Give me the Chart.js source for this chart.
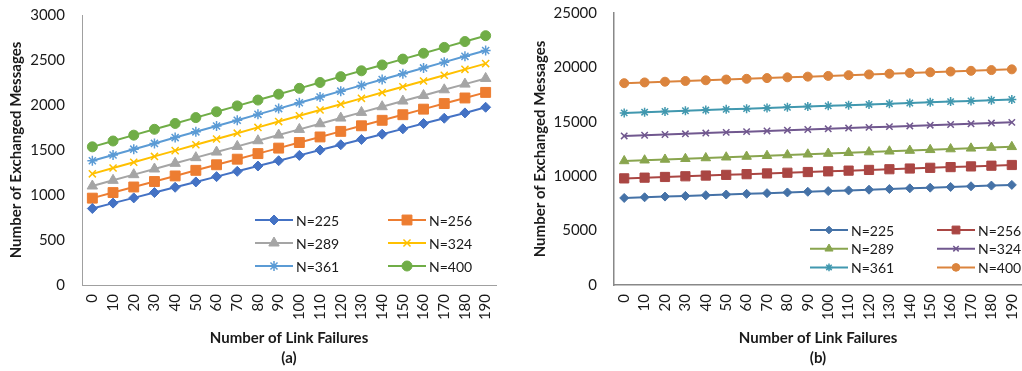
<!DOCTYPE html>
<html>
<head>
<meta charset="utf-8">
<script src="https://cdn.jsdelivr.net/npm/chart.js@4.4.1/dist/chart.umd.min.js"></script>
<style>
html,body{margin:0;padding:0;background:#fff;overflow:hidden;width:1022px;height:371px;}
#wa{position:absolute;left:0;top:0;width:505px;height:371px;}
#wb{position:absolute;left:510px;top:0;width:520px;height:371px;}
</style>
</head>
<body>
<div id="wa"><canvas id="ca"></canvas></div>
<div id="wb"><canvas id="cb"></canvas></div>
<script>
// ---- data ----
const categories = ['0','10','20','30','40','50','60','70','80','90','100','110','120','130','140','150','160','170','180','190'];
const seriesNames = ['N=225','N=256','N=289','N=324','N=361','N=400'];

// chart (a)
const a225 = [850, 910, 968, 1027, 1086, 1145, 1204, 1263, 1322, 1381, 1440, 1499, 1558, 1617, 1676, 1735, 1794, 1853, 1912, 1975];
const a256 = [965, 1027, 1089, 1150, 1212, 1274, 1336, 1398, 1460, 1521, 1583, 1645, 1707, 1769, 1830, 1892, 1954, 2016, 2078, 2140];
const a289 = [1100, 1163, 1226, 1289, 1352, 1415, 1477, 1540, 1603, 1666, 1729, 1792, 1855, 1918, 1981, 2044, 2106, 2169, 2232, 2295];
const a324 = [1235, 1300, 1364, 1429, 1493, 1558, 1622, 1687, 1751, 1816, 1880, 1945, 2009, 2074, 2138, 2203, 2267, 2331, 2396, 2460];
const a361 = [1380, 1444, 1509, 1573, 1638, 1702, 1767, 1831, 1896, 1960, 2025, 2089, 2154, 2218, 2283, 2347, 2412, 2476, 2541, 2605];
const a400 = [1535, 1600, 1665, 1730, 1795, 1860, 1925, 1990, 2055, 2120, 2185, 2250, 2315, 2380, 2445, 2510, 2575, 2640, 2705, 2770];

// chart (b)
const b225 = [8000, 8063, 8126, 8189, 8253, 8316, 8379, 8442, 8505, 8568, 8632, 8695, 8758, 8821, 8884, 8947, 9011, 9074, 9137, 9200];
const b256 = [9800, 9865, 9930, 9994, 10059, 10124, 10188, 10253, 10318, 10383, 10447, 10512, 10577, 10641, 10706, 10771, 10836, 10900, 10965, 11030];
const b289 = [11400, 11468, 11537, 11605, 11674, 11742, 11811, 11879, 11947, 12016, 12084, 12153, 12221, 12289, 12358, 12426, 12495, 12563, 12632, 12700];
const b324 = [13700, 13766, 13832, 13897, 13963, 14029, 14095, 14161, 14226, 14292, 14358, 14424, 14489, 14555, 14621, 14687, 14753, 14818, 14884, 14950];
const b361 = [15820, 15885, 15949, 16014, 16079, 16144, 16208, 16273, 16338, 16403, 16467, 16532, 16597, 16662, 16726, 16791, 16856, 16921, 16985, 17050];
const b400 = [18550, 18617, 18684, 18751, 18817, 18884, 18951, 19018, 19085, 19152, 19218, 19285, 19352, 19419, 19486, 19553, 19619, 19686, 19753, 19820];

const yTicksA = [0, 500, 1000, 1500, 2000, 2500, 3000];
const yTicksB = [0, 5000, 10000, 15000, 20000, 25000];

// ---- styles ----
const FONT = 'Lato, "Open Sans", sans-serif';
const TXT = '#1a1a1a';
const styles = ['rectRot','rect','triangle','crossRot','star','circle'];
const radA = [5, 7, 6, 5, 5, 5];
const radB = [4.5, 6.5, 5.5, 4.5, 4.5, 4.5];
const colorsA = ['#4472C4','#ED7D31','#A5A5A5','#FFC000','#5B9BD5','#70AD47'];
const colorsB = ['#4572A7','#AA4643','#89A54E','#71588F','#4198AF','#DB843D'];

function makeSets(arrs, colors, rads){
  return arrs.map((d,i)=>({
    label: seriesNames[i],
    data: d,
    borderColor: colors[i],
    backgroundColor: colors[i],
    pointBackgroundColor: colors[i],
    pointBorderColor: colors[i],
    pointBorderWidth: (styles[i]==='crossRot'||styles[i]==='star') ? 1.5 : 1,
    pointStyle: styles[i],
    pointRadius: rads[i],
    borderWidth: 2,
    tension: 0,
    fill: false
  }));
}

const legendPlugin = {
  id: 'customLegend',
  afterDraw(chart, args, opts){
    const ctx = chart.ctx;
    ctx.save();
    ctx.font = '14px ' + FONT;
    ctx.textBaseline = 'middle';
    ctx.textAlign = 'left';
    chart.data.datasets.forEach((ds,i)=>{
      const col = i % 2, row = Math.floor(i/2);
      const x0 = opts.x + col*opts.colGap;
      const y = opts.y + row*opts.rowGap;
      ctx.strokeStyle = ds.borderColor;
      ctx.lineWidth = 2;
      ctx.beginPath(); ctx.moveTo(x0, y); ctx.lineTo(x0+opts.lineLen, y); ctx.stroke();
      ctx.fillStyle = ds.backgroundColor;
      ctx.strokeStyle = ds.borderColor;
      ctx.lineWidth = ds.pointBorderWidth;
      Chart.helpers.drawPoint(ctx, {pointStyle: ds.pointStyle, radius: ds.pointRadius * opts.markScale, rotation: 0, borderWidth: ds.pointBorderWidth}, x0+opts.lineLen/2, y);
      ctx.fillStyle = TXT;
      ctx.fillText(ds.label, x0+opts.lineLen+3, y+1);
    });
    ctx.restore();
  }
};

function makeChart(id, arrs, colors, rads, yTicks, yMax, step, sub, cfg){
  return new Chart(document.getElementById(id), {
    type: 'line',
    data: { labels: categories, datasets: makeSets(arrs, colors, rads) },
    plugins: [legendPlugin],
    options: {
      responsive: true,
      maintainAspectRatio: false,
      animation: false,
      layout: { padding: { left: cfg.padLeft, right: cfg.padRight, top: cfg.padTop, bottom: 0 } },
      plugins: {
        legend: { display: false },
        tooltip: { enabled: false },
        customLegend: cfg.legend
      },
      scales: {
        x: {
          type: 'category',
          offset: true,
          grid: { display: false, drawTicks: true, tickLength: 9 },
          border: { display: true, color: cfg.axisColor, width: cfg.axisWidth },
          ticks: { minRotation: 90, maxRotation: 90, autoSkip: false, padding: 0, color: TXT, font: { family: FONT, size: 15 } },
          title: { display: true, text: ['Number of Link Failures', sub], color: TXT,
                   font: { family: FONT, size: 15, weight: 'bold', lineHeight: 1.3 }, padding: { top: 0, bottom: 3.5 } },
          afterFit(scale){ scale.height = cfg.xHeight; }
        },
        y: {
          min: 0, max: yMax,
          grid: { display: false, drawTicks: true, tickLength: 17 },
          border: { display: true, color: cfg.axisColor, width: cfg.axisWidth },
          afterBuildTicks(scale){ scale.ticks = yTicks.map(v=>({value:v})); },
          ticks: { stepSize: step, padding: 0, color: TXT, font: { family: FONT, size: 15 },
                   callback: (v)=> String(v) },
          title: { display: true, text: 'Number of Exchanged Messages', color: TXT,
                   font: { family: FONT, size: 15, weight: 'bold' }, padding: { top: 0, bottom: 0 } },
          afterFit(scale){ scale.width = cfg.yWidth; }
        }
      }
    }
  });
}

makeChart('ca', [a225,a256,a289,a324,a361,a400], colorsA, radA, yTicksA, 3000, 500, '(a)', {
  padLeft: 7, padRight: 9, padTop: 15, xHeight: 86, yWidth: 75, axisColor: '#a0a0a0', axisWidth: 1,
  legend: { x: 255, y: 220, colGap: 133, rowGap: 23, lineLen: 38, markScale: 1 }
});
makeChart('cb', [b225,b256,b289,b324,b361,b400], colorsB, radB, yTicksB, 25000, 5000, '(b)', {
  padLeft: 21, padRight: 4, padTop: 13, xHeight: 86, yWidth: 83, axisColor: '#888888', axisWidth: 1.5,
  legend: { x: 300, y: 230, colGap: 127, rowGap: 18.7, lineLen: 38, markScale: 0.85 }
});
</script>
</body>
</html>
